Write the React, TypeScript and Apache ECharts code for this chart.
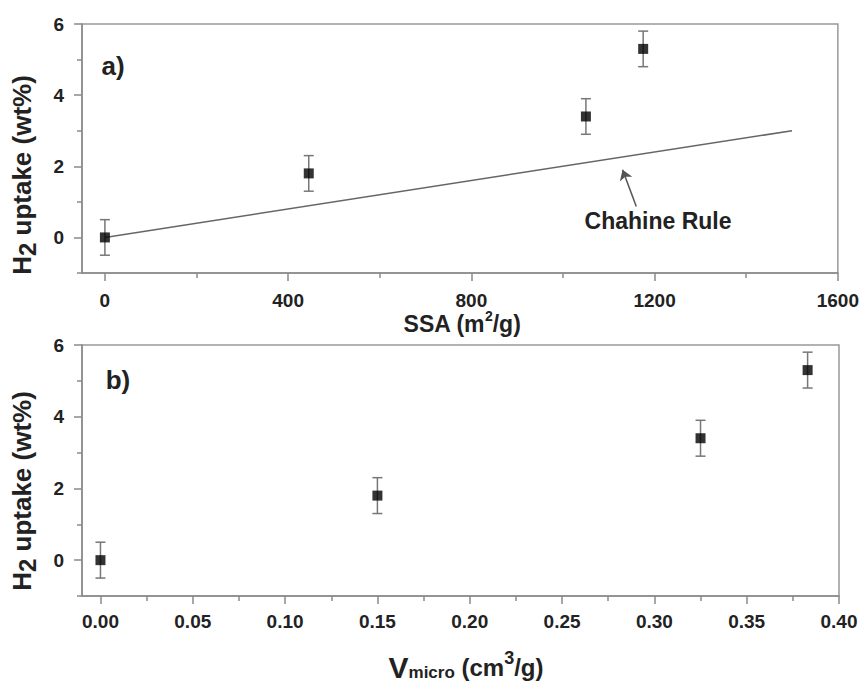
import React, { useEffect, useRef } from "react";
import * as echarts from "echarts";

// Hydrogen uptake vs. specific surface area and micropore volume
const ssa = [0, 445, 1050, 1175];
const vmicro = [0, 0.15, 0.325, 0.383];
const uptake = [0, 1.8, 3.4, 5.3];
const uptakeErr = [0.5, 0.5, 0.5, 0.5];

// Chahine rule: ~1 wt% per 500 m2/g
const chahineSSA = [0, 1500];
const chahineUptake = [0, 3];

// Arrow pointing from the annotation text to the Chahine line
const arrowSSA = [1160, 1130];
const arrowUptake = [0.87, 1.9];

const yMajor = [0, 2, 4, 6];
const yMinor = [-1, 1, 3, 5];
const ssaMajor = [0, 400, 800, 1200, 1600];
const ssaMinor = [200, 600, 1000, 1400];
const vMajor = [0, 0.05, 0.1, 0.15, 0.2, 0.25, 0.3, 0.35, 0.4];
const vMinor = [0.025, 0.075, 0.125, 0.175, 0.225, 0.275, 0.325, 0.375];

const FONT = "'Liberation Sans', Arial, sans-serif";
const TEXT = "#222";
const AXIS = "#8a8a8a";

function majorAxis(min: number, max: number, ticks: number[], gridIndex: number, isX: boolean, margin: number, fmt?: (v: number) => string) {
  return {
    type: "value",
    gridIndex,
    min,
    max,
    position: isX ? "bottom" : "left",
    axisLine: { show: true, onZero: false, lineStyle: { color: AXIS, width: 1.5 } },
    axisTick: { show: true, inside: false, length: 8, lineStyle: { color: AXIS, width: 1.5 }, customValues: ticks },
    axisLabel: {
      show: true,
      margin,
      customValues: ticks,
      color: TEXT,
      fontFamily: FONT,
      fontWeight: "bold",
      fontSize: 19,
      formatter: fmt ? (v: number) => fmt(v) : (v: number) => String(v),
    },
    splitLine: { show: false },
  };
}

function minorAxis(min: number, max: number, ticks: number[], gridIndex: number, isX: boolean) {
  return {
    type: "value",
    gridIndex,
    min,
    max,
    position: isX ? "bottom" : "left",
    axisLine: { show: false, onZero: false },
    axisTick: { show: true, inside: false, length: 5, lineStyle: { color: AXIS, width: 1.5 }, customValues: ticks },
    axisLabel: { show: false },
    splitLine: { show: false },
  };
}

function errorBars(xs: number[], xAxisIndex: number, yAxisIndex: number) {
  return {
    type: "custom",
    xAxisIndex,
    yAxisIndex,
    z: 1,
    data: xs.map((x, i) => [x, uptake[i], uptakeErr[i]]),
    encode: { x: 0, y: 1 },
    renderItem: (_params: any, api: any) => {
      const x = api.value(0);
      const y = api.value(1);
      const e = api.value(2);
      const top = api.coord([x, y + e]);
      const bot = api.coord([x, y - e]);
      const w = 5;
      const style = { stroke: "#777", lineWidth: 1.5 };
      return {
        type: "group",
        children: [
          { type: "line", shape: { x1: top[0], y1: top[1], x2: bot[0], y2: bot[1] }, style },
          { type: "line", shape: { x1: top[0] - w, y1: top[1], x2: top[0] + w, y2: top[1] }, style },
          { type: "line", shape: { x1: bot[0] - w, y1: bot[1], x2: bot[0] + w, y2: bot[1] }, style },
        ],
      };
    },
  };
}

function richLabel(base: number, small: number, shift: number) {
  return {
    a: { fontSize: base, fontWeight: "bold", fontFamily: FONT, fill: TEXT },
    sub: { fontSize: small, fontWeight: "bold", fontFamily: FONT, fill: TEXT, padding: [shift, 0, 0, 0] },
    sup: { fontSize: small, fontWeight: "bold", fontFamily: FONT, fill: TEXT, padding: [0, 0, shift, 0] },
  };
}

export default function App() {
  const ref = useRef<HTMLDivElement>(null);

  useEffect(() => {
    document.body.style.margin = "0";
    if (!ref.current) return;
    const chart = echarts.init(ref.current, undefined, { renderer: "svg" });

    const option: any = {
      animation: false,
      backgroundColor: "#fff",
      grid: [
        { left: 82, top: 24, width: 757, height: 249, show: true, borderColor: "#999", borderWidth: 1.5, backgroundColor: "transparent" },
        { left: 82, top: 345, width: 757, height: 251, show: true, borderColor: "#999", borderWidth: 1.5, backgroundColor: "transparent" },
      ],
      xAxis: [
        majorAxis(-50, 1600, ssaMajor, 0, true, 18),
        minorAxis(-50, 1600, ssaMinor, 0, true),
        majorAxis(-0.01, 0.4, vMajor, 1, true, 16, (v) => v.toFixed(2)),
        minorAxis(-0.01, 0.4, vMinor, 1, true),
      ],
      yAxis: [
        majorAxis(-1, 6, yMajor, 0, false, 18),
        minorAxis(-1, 6, yMinor, 0, false),
        majorAxis(-1, 6, yMajor, 1, false, 18),
        minorAxis(-1, 6, yMinor, 1, false),
      ],
      series: [
        {
          type: "line",
          xAxisIndex: 0,
          yAxisIndex: 0,
          data: chahineSSA.map((x, i) => [x, chahineUptake[i]]),
          symbol: "none",
          lineStyle: { color: "#666", width: 1.5 },
          z: 1,
        },
        {
          type: "lines",
          coordinateSystem: "cartesian2d",
          xAxisIndex: 0,
          yAxisIndex: 0,
          symbol: ["none", "arrow"],
          symbolSize: [0, 10],
          lineStyle: { color: "#555", width: 1.5, opacity: 1 },
          data: [{ coords: arrowSSA.map((x, i) => [x, arrowUptake[i]]) }],
          z: 2,
        },
        errorBars(ssa, 0, 0),
        {
          type: "scatter",
          xAxisIndex: 0,
          yAxisIndex: 0,
          symbol: "rect",
          symbolSize: 10,
          itemStyle: { color: "#000" },
          data: ssa.map((x, i) => [x, uptake[i]]),
          z: 3,
        },
        errorBars(vmicro, 2, 2),
        {
          type: "scatter",
          xAxisIndex: 2,
          yAxisIndex: 2,
          symbol: "rect",
          symbolSize: 10,
          itemStyle: { color: "#000" },
          data: vmicro.map((x, i) => [x, uptake[i]]),
          z: 3,
        },
      ],
      graphic: [
        {
          type: "text",
          x: 22,
          y: 175,
          rotation: Math.PI / 2,
          style: { text: "{a|H}{sub|2}{a| uptake (wt%)}", rich: richLabel(26, 24, 10), align: "center", verticalAlign: "middle" },
        },
        {
          type: "text",
          x: 22,
          y: 491,
          rotation: Math.PI / 2,
          style: { text: "{a|H}{sub|2}{a| uptake (wt%)}", rich: richLabel(26, 24, 10), align: "center", verticalAlign: "middle" },
        },
        {
          type: "text",
          x: 462,
          y: 324,
          style: { text: "{a|SSA (m}{sup|2}{a|/g)}", rich: richLabel(23, 14, 16), align: "center", verticalAlign: "middle" },
        },
        {
          type: "text",
          x: 466,
          y: 667,
          style: {
            text: "{v|V}{m|micro}{a| (cm}{sup|3}{a|/g)}",
            rich: {
              ...richLabel(24, 18, 18),
              v: { fontSize: 30, fontWeight: "bold", fontFamily: FONT, fill: TEXT },
              m: { fontSize: 17, fontWeight: "bold", fontFamily: FONT, fill: TEXT, padding: [10, 0, 0, 0] },
            },
            align: "center",
            verticalAlign: "middle",
          },
        },
        {
          type: "text",
          x: 113,
          y: 66,
          style: { text: "a)", font: `bold 26px ${FONT}`, fill: TEXT, align: "center", verticalAlign: "middle" },
        },
        {
          type: "text",
          x: 118,
          y: 380,
          style: { text: "b)", font: `bold 26px ${FONT}`, fill: TEXT, align: "center", verticalAlign: "middle" },
        },
        {
          type: "text",
          x: 658,
          y: 221,
          style: { text: "Chahine Rule", font: `bold 23px ${FONT}`, fill: TEXT, align: "center", verticalAlign: "middle" },
        },
      ],
    };

    chart.setOption(option);
    return () => chart.dispose();
  }, []);

  return <div ref={ref} style={{ width: 862, height: 685 }} />;
}
